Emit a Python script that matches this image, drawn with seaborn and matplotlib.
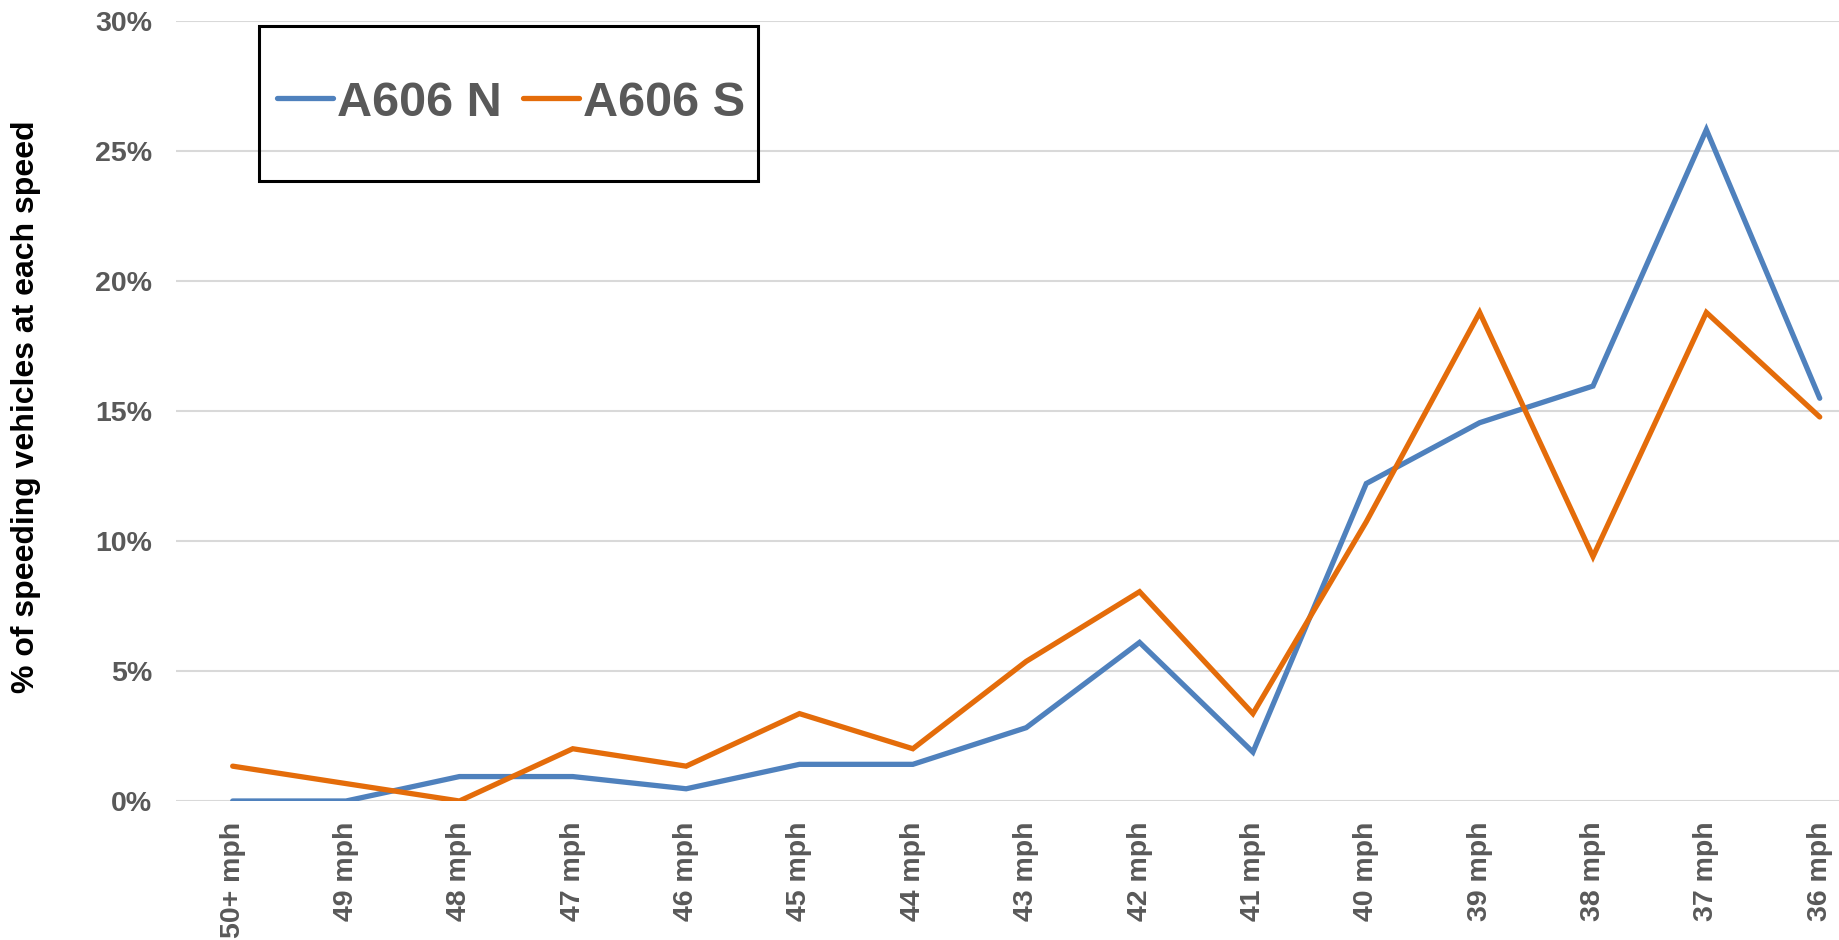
import matplotlib
matplotlib.use("Agg")
import matplotlib.pyplot as plt
from matplotlib.patches import Rectangle
import seaborn as sns
import pandas as pd

speeds = ["50+ mph", "49 mph", "48 mph", "47 mph", "46 mph", "45 mph", "44 mph",
          "43 mph", "42 mph", "41 mph", "40 mph", "39 mph", "38 mph", "37 mph", "36 mph"]
a606_n = [0.0, 0.0, 0.94, 0.94, 0.47, 1.41, 1.41, 2.82, 6.10, 1.88, 12.21, 14.55, 15.96, 25.82, 15.49]
a606_s = [1.34, 0.67, 0.0, 2.01, 1.34, 3.36, 2.01, 5.37, 8.05, 3.36, 10.74, 18.79, 9.40, 18.79, 14.77]
series_names = ["A606 N", "A606 S"]
colors = ["#4F81BD", "#E46C0A"]
y_ticks = [0, 5, 10, 15, 20, 25, 30]

df = pd.DataFrame({
    "speed": speeds * 2,
    "pct": a606_n + a606_s,
    "series": [series_names[0]] * len(speeds) + [series_names[1]] * len(speeds),
})

sns.set_theme(style="white")
plt.rcParams["font.family"] = ["Liberation Sans", "DejaVu Sans"]

W, H = 1839, 940
fig = plt.figure(figsize=(W / 100, H / 100), dpi=100)
ax_left, ax_right, ax_top, ax_bottom = 176, 1839, 21, 801
ax = fig.add_axes([ax_left / W, (H - ax_bottom) / H, (ax_right - ax_left) / W, (ax_bottom - ax_top) / H])

sns.lineplot(data=df, x="speed", y="pct", hue="series", hue_order=series_names,
             palette=colors, linewidth=3.8, sort=False, ax=ax, legend=False)
for ln in ax.lines:
    ln.set_solid_capstyle("round")
    ln.set_solid_joinstyle("miter")

ax.set_xlim(-0.5, 14.17)
ax.set_ylim(0, 30)
ax.set_yticks(y_ticks)
ax.set_yticklabels([f"{v}%" for v in y_ticks])
ax.set_xticks(range(len(speeds)))
ax.set_xticklabels(speeds, rotation=90)
ax.grid(axis="y", color="#D9D9D9", linewidth=1.5)
ax.grid(axis="x", visible=False)
ax.set_axisbelow(True)
for s in ax.spines.values():
    s.set_visible(False)
ax.tick_params(axis="both", length=0, colors="#595959", labelsize=20.5)
ax.tick_params(axis="y", pad=17)
ax.tick_params(axis="x", pad=15)
for lab in ax.get_xticklabels() + ax.get_yticklabels():
    lab.set_fontweight("bold")
ax.set_xlabel("")
ax.set_ylabel("")

fig.text(26 / W, 1 - 407 / H, "% of speeding vehicles at each speed", rotation=90,
         ha="center", va="center", fontsize=23, fontweight="bold", color="black")

# legend box
bx0, bx1, by0, by1 = 259, 758, 26, 181
fig.patches.append(Rectangle((bx0 / W, 1 - by1 / H), (bx1 - bx0) / W, (by1 - by0) / H,
                             transform=fig.transFigure, fill=False, edgecolor="black",
                             linewidth=2.2, zorder=10))
handles = [plt.Line2D([], [], color=c, linewidth=3.8, solid_capstyle="round") for c in colors]
leg = fig.legend(handles, series_names, loc="center", ncol=2,
                 bbox_to_anchor=(511 / W, 1 - 103 / H), frameon=False,
                 prop={"weight": "bold", "size": 35}, handlelength=1.15,
                 handletextpad=0.08, columnspacing=0.45, borderpad=0)
for t in leg.get_texts():
    t.set_color("#595959")

fig.savefig("out.png", dpi=100)
